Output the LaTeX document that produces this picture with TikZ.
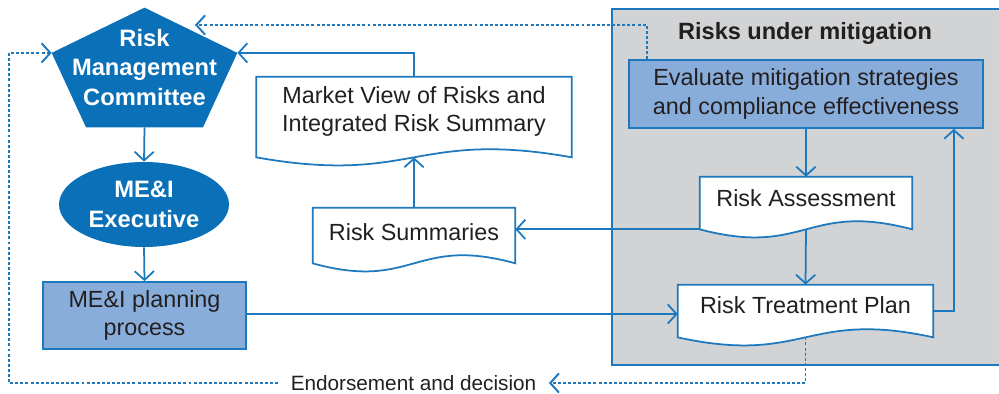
\documentclass[tikz,border=0pt]{standalone}
\usepackage{fontspec}
\setmainfont{Liberation Sans}
\usetikzlibrary{shapes.geometric,arrows.meta,calc}

\definecolor{lineblue}{HTML}{1E78BE}
\definecolor{darkfill}{HTML}{0A70B8}
\definecolor{lightfill}{HTML}{89ADDB}
\definecolor{panelgrey}{HTML}{D1D3D5}
\definecolor{textgrey}{HTML}{231F20}

\pgfdeclarelayer{back}
\pgfsetlayers{back,main}

\tikzset{
  tip/.style={-{Straight Barb[length=5pt,width=11pt]}},
  flow/.style={draw=lineblue, line width=1pt, tip},
  dotflow/.style={draw=lineblue, line width=1.1pt, dash pattern=on 1.7pt off 1.2pt, tip},
  docline/.style={draw=lineblue, line width=1pt, fill=white},
  doctext/.style={text=textgrey, align=center, inner sep=0pt,
    font=\fontsize{13.3}{16}\selectfont},
  lightbox/.style={doctext, draw=lineblue, line width=1pt, fill=lightfill},
  whitetext/.style={text=white, align=center, inner sep=0pt,
    font=\bfseries\fontsize{13.5}{16.7}\selectfont}
}

% outline of a document shape, wavy bottom
\newcommand{\docwave}[1]{%
  \begin{pgfonlayer}{back}
    \filldraw[docline] (#1.south west) -- (#1.north west) -- (#1.north east) -- (#1.south east)
      .. controls ($(#1.south)+(0,-28)$) and ($(#1.south)+(0,28)$) .. (#1.south west) -- cycle;
  \end{pgfonlayer}}

\begin{document}
\begin{tikzpicture}[x=0.02cm,y=-0.02cm]
\useasboundingbox (0,0) rectangle (999,394);

% grey panel
\begin{pgfonlayer}{back}
  \filldraw[draw=lineblue, line width=1pt, fill=panelgrey] (612,9) rectangle (1010,365);
\end{pgfonlayer}
\node[text=textgrey, font=\bfseries\fontsize{13.4}{16}\selectfont] (title) at (805,33) {Risks under mitigation};

% right side
\node[lightbox, minimum width=7.08cm, minimum height=1.36cm] (eval) at (806,94)
  {Evaluate mitigation strategies\\and compliance effectiveness};
\node[doctext, text depth=5.7pt, minimum width=4.24cm, minimum height=1.04cm] (ra) at (806,203) {Risk Assessment};
\docwave{ra}
\node[doctext, text depth=6.8pt, minimum width=5.1cm, minimum height=1.04cm] (rtp) at (805.5,311) {Risk Treatment Plan};
\docwave{rtp}

% middle documents
\node[doctext, text depth=4pt, minimum width=4.04cm, minimum height=1.1cm] (rs) at (414,235.5) {Risk Summaries};
\docwave{rs}
\node[doctext, text depth=9pt, minimum width=6.3cm, minimum height=1.6cm] (mv) at (414,117)
  {Market View of Risks and\\Integrated Risk Summary};
\docwave{mv}

% left column
\node[whitetext, minimum width=3.7cm, minimum height=2.38cm] (rmc) at (144.5,67.5)
  {Risk\\Management\\Committee};
\coordinate (rmcR) at ($(rmc.north east)!0.378!(rmc.south east)$);
\coordinate (rmcL) at ($(rmc.north west)!0.378!(rmc.south west)$);
\begin{pgfonlayer}{back}
  \fill[darkfill] (rmc.north) -- (rmcR) -- ($(rmc.south east)!0.185!(rmc.south west)$)
    -- ($(rmc.south west)!0.185!(rmc.south east)$) -- (rmcL) -- cycle;
\end{pgfonlayer}
\node[whitetext, ellipse, fill=darkfill, minimum width=3.4cm, minimum height=1.7cm] (exec) at (144,204.5)
  {ME\&I\\Executive};
\node[lightbox, minimum width=4.06cm, minimum height=1.34cm] (plan) at (144.5,315.5)
  {ME\&I planning\\process};

\node[text=textgrey, inner xsep=7pt, font=\fontsize{11.8}{14}\selectfont] (endorse) at (413.5,383)
  {Endorsement and decision};

% connectors
\draw[flow] (rmc.south) -- (exec.north);
\draw[flow] (exec.south) -- (plan.north);
\draw[flow] ($(plan.east)+(0,-1.5)$) -- ($(plan.east -| rtp.west)+(0,-1.5)$);
\draw[flow] (eval.south) -- (ra.north);
\draw[flow] (ra.south) -- (rtp.north);
\draw[flow] (rtp.east) -| ($(eval.south east)+(-30,0)$);
\draw[flow] (ra.south west) -- (ra.south west -| rs.east);
\draw[flow] (rs.north) -- (mv.south);
\draw[flow] (mv.north) |- (rmcR);

\coordinate (rmctop) at (195,25);
\coordinate (loopbl) at (9,383);
\draw[dotflow] ($(eval.north west)+(19,0)$) |- (rmctop);
\draw[dotflow] (rtp.south) |- (endorse.east);
\draw[dotflow] (endorse.west) -- (loopbl) |- (rmcL);
\end{tikzpicture}
\end{document}
